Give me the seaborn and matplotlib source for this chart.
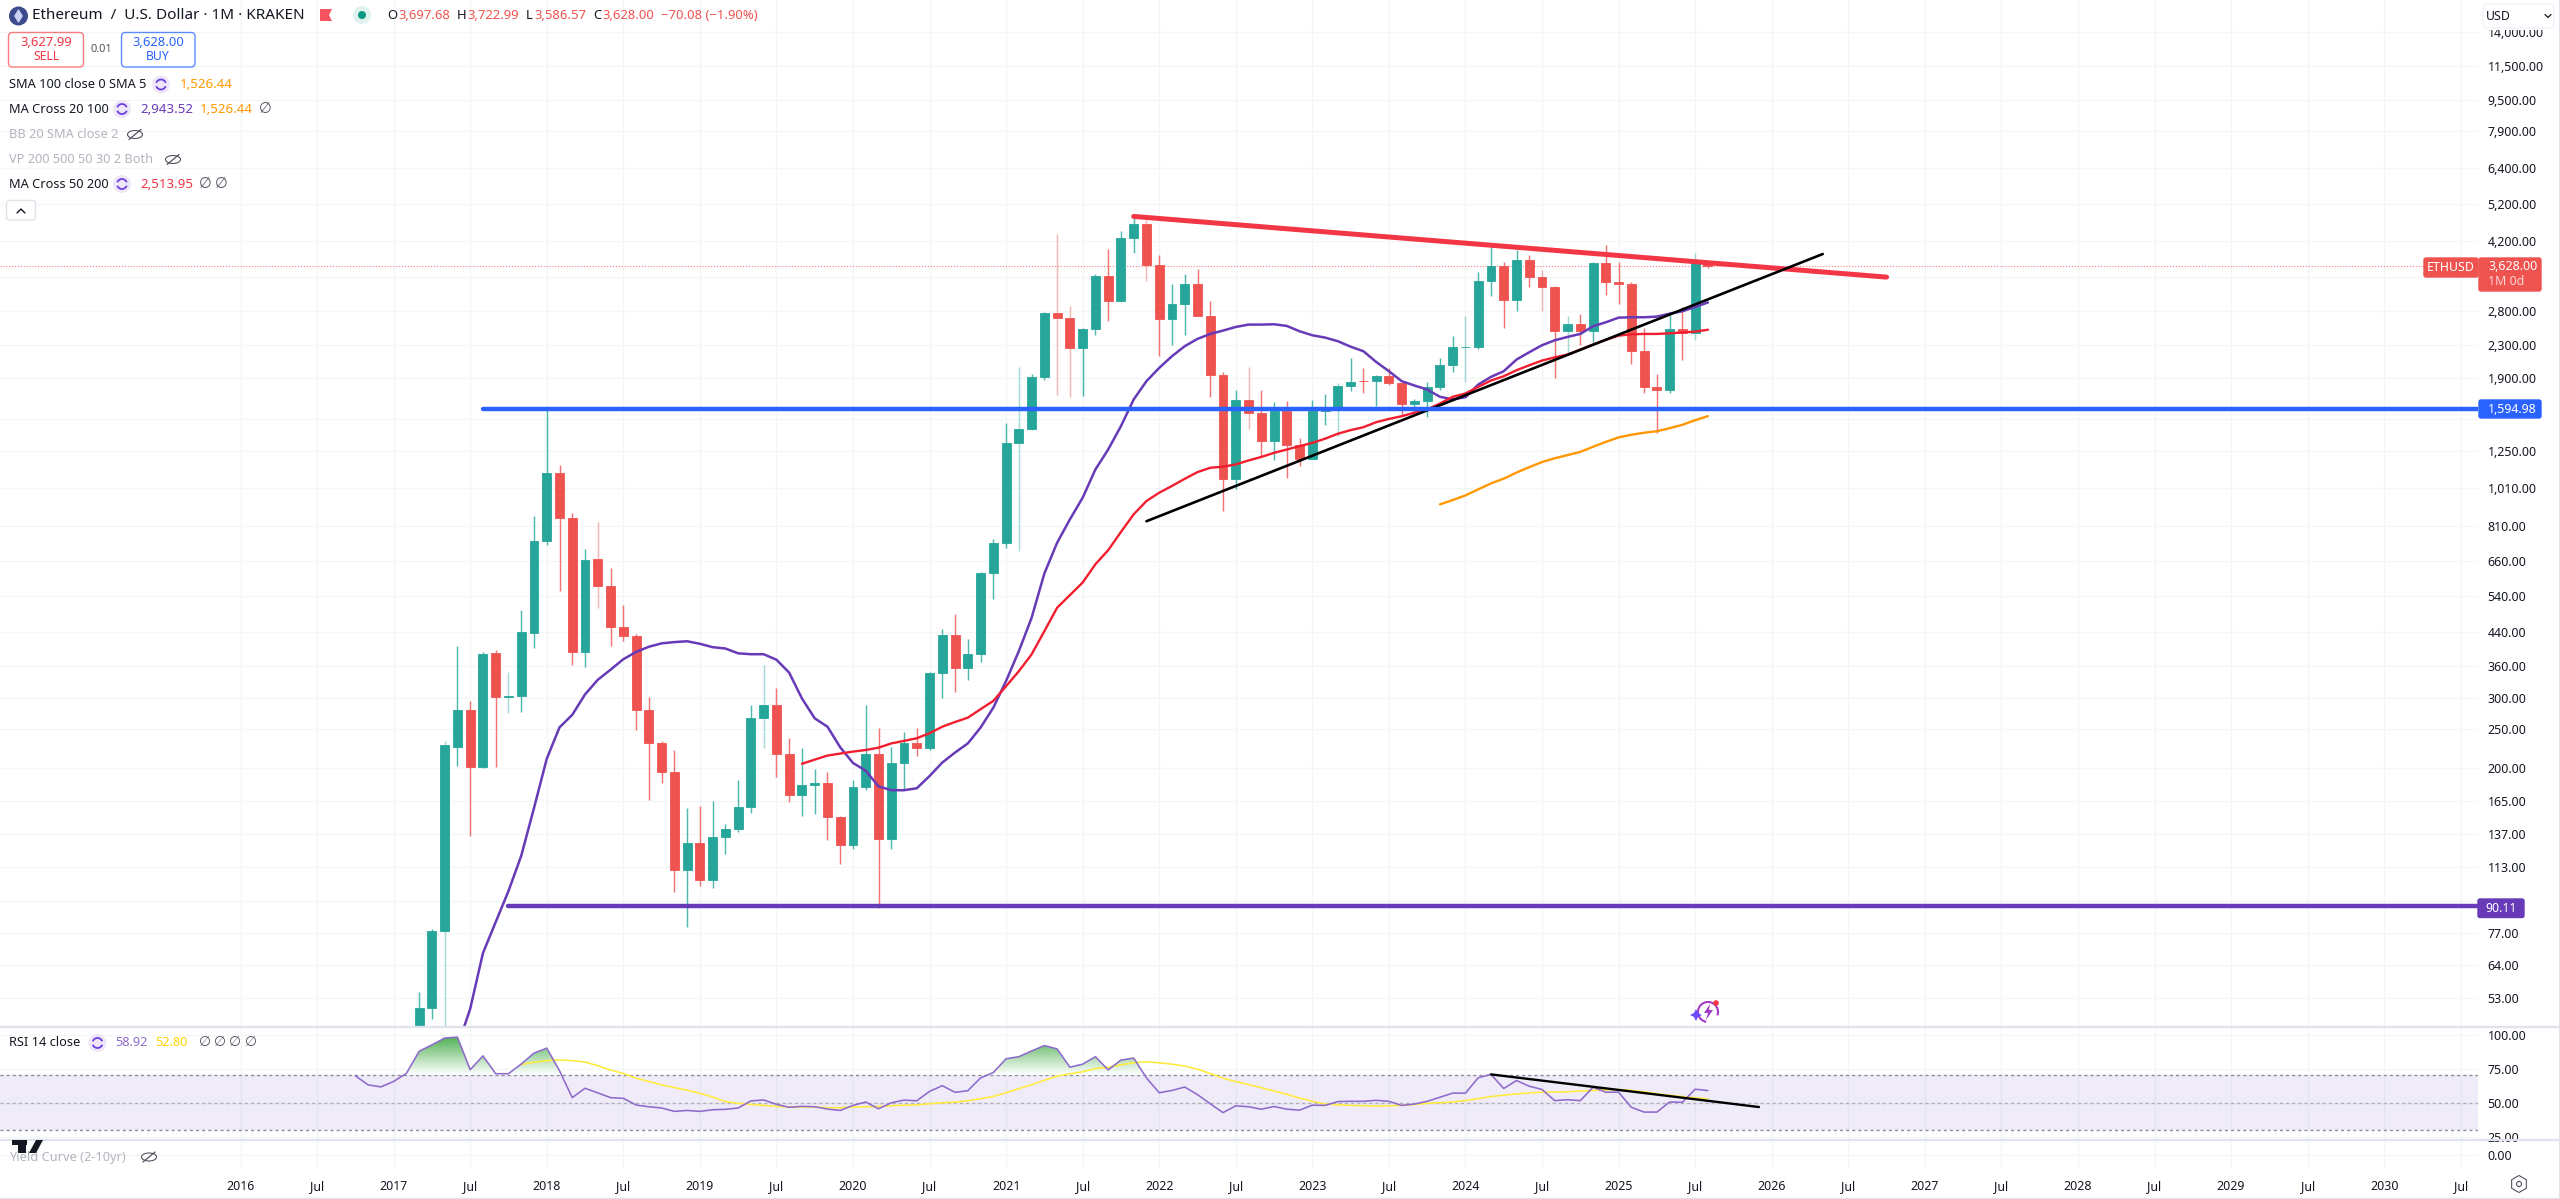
import numpy as np
import pandas as pd
import seaborn as sns
import matplotlib
matplotlib.use("Agg")
import matplotlib.pyplot as plt
from matplotlib.patches import Rectangle, FancyBboxPatch, Circle, Polygon, Ellipse, Arc, RegularPolygon

# ---------- data ----------
first_candle = "2017-03"
opens = [16,50,78,226,280,201,388,301,303,437,741,1100,846,390,668,574,451,430,280,231,196,111,130,105,134,140.5,
         160,267,288,217,171,181,183,151,128,179,217,132.5,206,231,225,346,432,357,386,616,735,1306,1419,1911,2770,
         2695,2267,2526,3425,2974,4278,4628,3654,2676,2918,3274,2717,1933,1063,1677,1553,1321,1568,1289,1189,1577,
         1605,1819,1870,1867,1930,1848,1639,1664,1808,2048,2272,2282,3325,3640,2992,3753,3408,3212,2497,2595,2497,
         3695,3319,3274,2220,1811,1780,2521,2469,3697.68]
highs = [55,79,234,404,294,392,395,348,498,860,1587,1149,873,710,826,635,514,433,301,234,222,159,161,165,145,187,
         288,362,318,238,224,199,195,152,187,288,252,226,246.5,252.6,348,446,488,421,622,752,1469,2029,1944,2790,4378,
         2879,2540,3475,4014,4439,4836,4727,3870,3274,3475,3577,2963,1965,1780,2025,1780,1658,1670,1345,1677,1739,
         1852,2133,2018,1935,2018,1860,1690,1862,2133,2431,2718,3505,4069,3725,3974,3876,3543,3243,2724,2760,3725,
         4108,3728,3319,2536,1952,2760,2867,3915,3722.99]
lows = [15,47,42,203,135,200,201,275,277,401,724,557,362,358,503,404,416,249,166,183,98,80,101,100,122,138,
        154,225,190,164,152,153,132,115,125.5,176,89.4,125,176,215,222,299,310.5,332,370,530,711,699,1412,1886,1726,
        1700,1713,2445,2650,2970,3915,3325,2158,2299,2439,2715,1700,881,1004,1419,1212,1184,1068,1144,1189,1452,
        1365,1760,1743,1617,1830,1541,1560,1520,1780,1975,1857,2250,3050,2536,2807,3224,2801,1907,2191,2308,2348,
        3078,2918,2068,1746,1387,1746,2108,2366,3586.57]
closes = [50,78,228,280,201,387,301,303,438,742,1100,846,390,666,574,451,429,280,231,196,111,130,105,134,140.5,160,
          267,288,217,171,181,183,151,128,179,217,132.5,206,231,224,346,432,357,386,616,733,1306,1419,1911,2771,2695,
          2267,2526,3422,2974,4278,4628,3654,2676,2918,3274,2717,1933,1063,1677,1553,1321,1568,1289,1189,1577,1605,
          1819,1860,1867,1930,1848,1639,1664,1808,2048,2272,2282,3325,3640,2992,3753,3408,3212,2497,2595,2497,3695,
          3319,3274,2220,1811,1780,2521,2469,3695,3628]
pale_wicks = ["2017-05","2017-10","2018-05","2019-06","2021-02","2021-05","2021-06","2021-12","2022-08","2023-03",
              "2024-01","2024-07","2024-09","2025-07"]

sma20_start = "2017-06"
sma20 = [40,49.8,68.7,82.2,98.3,120.5,158.7,211,253,272,306,333,353,375,391,403,411,414,416,410,402,399,388,386,386,
         374,347,299,266.6,254,225.5,206,197,180,176,176,178,191,206.5,218.8,230.6,252.7,283.6,330.8,393,476.6,615.5,
         735,841,953,1122,1259,1441,1681,1868,2017,2158,2286,2385,2454,2502,2555,2590,2590,2595,2570,2492,2435,2403,
         2353,2280,2221,2088,1979,1868,1822,1780,1707,1681,1703,1832,1915,1979,2116,2208,2299,2366,2412,2454,2565,
         2625,2696,2702,2702,2712,2759,2797,2867,2943.52]
sma50_start = "2019-09"
sma50 = [205,210,215,217.5,220,222,225,230.6,234,237.6,244.6,254,261,267.6,281,294.8,321,350,385.7,441,505,543,584,649,
         704,782,866,935,981,1020,1063,1105,1133,1140,1155,1182,1206,1235,1259,1284,1308,1340,1379,1408,1432,1474,1502,
         1526,1557,1587,1642,1707,1740,1808,1875,1922,1990,2048,2104,2144,2178,2242,2308,2371,2430,2449,2454,2454,
         2463,2475,2487,2513.95]
sma100_start = "2023-11"
sma100 = [917,940,966,1000,1035,1064,1102,1137,1171,1197,1219,1242,1279,1316,1350,1371,1387,1399,1424,1452,1491,1526.44]

rsi_start = "2016-10"
rsi = [69.8,63.1,61.6,65.6,71.5,87.8,92.5,97.5,98.2,74.2,84.4,71.3,71.3,78.4,86.4,90.1,73.5,53.7,60.6,57.2,53.7,53.2,
       48.3,47,46.1,43.6,44.3,43.6,44.8,45.1,46.1,51.3,52,48.8,46.6,47.3,47,45.3,44.3,48,50.5,45.5,49.9,51.9,51.4,58.3,
       62.5,57.6,58.8,68.2,72.2,82.3,83.8,88,92,89.5,76.1,78.3,83.8,74.1,81.3,82.8,68.2,57.3,59,61.5,55.9,49.2,42.7,
       47.7,47,45.2,47.2,45.2,44.5,48.2,48,50.8,51,51,51.7,51,48,49,51,54,57,57,68.3,70.8,60.4,66.3,62.1,59.7,51.5,
       52.2,51.5,61.4,57.7,57.7,46.6,43.1,43.1,50.5,50.3,59.9,58.92]
rsi_ma_start = "2017-11"
rsi_ma = [78,79.7,80.9,81.4,80.9,79.9,77.2,74,71.5,68,65.6,63.1,61.1,59.2,56.9,54.2,50.8,49.5,48.8,48,47.3,46.8,46.8,
          46.8,46.3,46.3,46.8,47,47.2,47.7,48.2,48.4,49.2,49.9,50.4,51.4,52.9,54.6,57.3,60.3,63.3,66.5,69.5,71.2,72.7,
          75.1,75.9,77.9,79.3,80.1,79.3,78.3,76.9,74.6,71.4,68,65.5,63.3,61,58.6,56.1,53.4,51,49,48.5,48,47.8,47.5,47.7,
          48,48.7,49.5,50,50.5,51.5,53,54.5,55.5,56.4,57.2,57.7,57.9,58,58.6,59,59.4,59.7,59,58,56.6,55.4,54.5,53.6,52.8]

price_ticks = [14000,11500,9500,7900,6400,5200,4200,3400,2800,2300,1900,1500,1250,1010,810,660,540,440,360,300,250,
               200,165,137,113,93,77,64,53]
hidden_price_ticks = [3400,1500,93]
rsi_ticks = [100,75,50,25]
years = list(range(2016, 2031))
resistance_line = (("2021-11", 4837), ("2026-10", 3407))
support_line = (("2021-12", 832), ("2026-05", 3893))
rsi_trend_line = (("2024-03", 70.8), ("2025-12", 46.8))
level_blue, level_blue_start = 1594.98, "2017-08"
level_purple, level_purple_start = 90.11, "2017-10"
last_price = 3628.00

GREEN, RED = "#26A69A", "#EF5350"
PURPLE, BLUE, TREND_RED, MA_RED, ORANGE = "#673AB7", "#2962FF", "#F23645", "#F01E2E", "#FF9800"
GRID, SEP, TEXT = "#F4F5F7", "#E0E3EB", "#131722"
FONT = ["Noto Sans", "DejaVu Sans"]

def mi(s):
    y, m = s.split("-")
    return (int(y) - 2016) * 12 + int(m) - 1

def series_frame(start, values):
    return pd.DataFrame({"month": mi(start) + np.arange(len(values)), "value": values})

# ---------- figure / panes (pixel layout of the 2560x1199 screenshot) ----------
sns.set_theme(style="white")
plt.rcParams["font.family"] = FONT
W, H = 2560, 1199
fig = plt.figure(figsize=(W / 100, H / 100), dpi=100, facecolor="white")

def pane(top, bottom, right=2478):
    return fig.add_axes([0, 1 - bottom / H, right / W, (bottom - top) / H])

main = pane(0, 1026)
rsi_ax = pane(1028, 1139)
yc = pane(1141, 1168)
xlim = ((0 - 240.5) / 12.76, (2478 - 240.5) / 12.76)
major_x = [(y - 2016) * 12 for y in years]
minor_x = [m + 6 for m in major_x]

for ax in (main, rsi_ax, yc):
    ax.set_xlim(*xlim)
    ax.set_facecolor("white")
    for s in ax.spines.values():
        s.set_visible(False)
    ax.set_axisbelow(True)
    for x in major_x + minor_x:
        ax.axvline(x, color=GRID, lw=1.0, zorder=0)
    ax.tick_params(axis="both", length=0)
    ax.yaxis.tick_right()

# ---------- main pane ----------
main.set_yscale("log")
main.set_ylim(45.1, 16880)
main.set_yticks(price_ticks)
main.minorticks_off()
main.set_yticklabels(["" if p in hidden_price_ticks else f"{p:,.2f}" for p in price_ticks],
                     fontsize=8.9, color=TEXT)
main.tick_params(axis="y", pad=7)
main.set_xticks([])
for p in price_ticks:
    main.axhline(p, color=GRID, lw=1.0, zorder=0)

candles = pd.DataFrame({"month": mi(first_candle) + np.arange(len(closes)),
                        "open": opens, "high": highs, "low": lows, "close": closes})
labels = pd.period_range(first_candle, periods=len(closes), freq="M").astype(str)
candles["pale"] = [s in pale_wicks for s in labels]
candles["color"] = np.where(candles.close >= candles.open, GREEN, RED)
main.vlines(candles.month, candles.low, candles.high, colors=candles.color,
            alpha=np.where(candles.pale, 0.42, 0.8), lw=1.05, zorder=2)
bottoms = candles[["open", "close"]].min(axis=1)
tops = candles[["open", "close"]].max(axis=1)
main.bar(candles.month, tops - bottoms, bottom=bottoms, width=0.70, color=candles.color,
         edgecolor=candles.color, linewidth=0.6, zorder=3)

main.axhline(last_price, color=RED, lw=0.8, ls=(0, (1, 1.6)), alpha=0.75, zorder=1)
for start, values, color, lw in ((sma20_start, sma20, PURPLE, 1.8), (sma50_start, sma50, MA_RED, 1.7),
                                 (sma100_start, sma100, ORANGE, 1.7)):
    sns.lineplot(data=series_frame(start, values), x="month", y="value", ax=main, color=color,
                 linewidth=lw, estimator=None, zorder=4)
main.set_xlabel(""); main.set_ylabel("")
main.set_xlim(*xlim)

for (a, b), color, lw in ((resistance_line, TREND_RED, 3.6), (support_line, "black", 1.9)):
    main.plot([mi(a[0]), mi(b[0])], [a[1], b[1]], color=color, lw=lw, solid_capstyle="round", zorder=5)
main.plot([mi(level_blue_start), xlim[1]], [level_blue] * 2, color=BLUE, lw=3.2,
          solid_capstyle="round", zorder=5)
main.plot([mi(level_purple_start), xlim[1]], [level_purple] * 2, color=PURPLE, lw=3.2,
          solid_capstyle="round", zorder=5)

# ---------- RSI pane ----------
rsi_ax.set_ylim(23.3, 104.9)
rsi_ax.set_yticks(rsi_ticks)
rsi_ax.set_yticklabels([f"{v:.2f}" for v in rsi_ticks], fontsize=8.9, color=TEXT)
rsi_ax.tick_params(axis="y", pad=7)
rsi_ax.set_xticks([])
for v in rsi_ticks:
    rsi_ax.axhline(v, color=GRID, lw=1.0, zorder=0)
rsi_ax.axhspan(30, 70, color="#7E57C2", alpha=0.115, lw=0, zorder=1)
for v, a in ((30, 0.85), (50, 0.5), (70, 0.85)):
    rsi_ax.axhline(v, color="#787B86", lw=1.0, ls=(0, (2.2, 2.2)), zorder=1.5, alpha=a)
rf = series_frame(rsi_start, rsi)
poly = rsi_ax.fill_between(rf.month, rf.value, 70, where=rf.value >= 70, interpolate=True, color="none", lw=0)
grad = np.linspace(0, 1, 128).reshape(-1, 1)
cmap = matplotlib.colors.LinearSegmentedColormap.from_list("g", ["#4CAF50", "#A8D8AA", "#FFFFFF"])
im = rsi_ax.imshow(grad, extent=(xlim[0], xlim[1], 70, 98.5), origin="upper", aspect="auto", cmap=cmap, zorder=1.8)
pth = poly.get_paths()
verts = [p for p in pth]
im.set_clip_path(matplotlib.path.Path.make_compound_path(*verts), transform=rsi_ax.transData)
rsi_ax.set_xlim(*xlim); rsi_ax.set_ylim(23.3, 104.9)
sns.lineplot(data=series_frame(rsi_ma_start, rsi_ma), x="month", y="value", ax=rsi_ax, color="#FFEB3B",
             linewidth=1.15, estimator=None, zorder=3)
sns.lineplot(data=rf, x="month", y="value", ax=rsi_ax, color="#8E6BCB", linewidth=1.15, estimator=None, zorder=4)
rsi_ax.plot([mi(rsi_trend_line[0][0]), mi(rsi_trend_line[1][0])], [rsi_trend_line[0][1], rsi_trend_line[1][1]],
            color="black", lw=1.7, zorder=5)
rsi_ax.set_xlabel(""); rsi_ax.set_ylabel("")

# ---------- yield pane and time axis ----------
yc.set_ylim(-1, 1)
yc.set_yticks([0]); yc.set_yticklabels(["0.00"], fontsize=8.9, color=TEXT)
yc.tick_params(axis="y", pad=7)
yc.axhline(0, color=GRID, lw=1.0, zorder=0)
xt = sorted(major_x + minor_x)
yc.set_xticks(xt)
yc.set_xticklabels([str(2016 + m // 12) if m % 12 == 0 else "Jul" for m in xt], fontsize=8.9, color=TEXT)
yc.tick_params(axis="x", pad=9)
for lab, m in zip(yc.get_xticklabels(), xt):
    lab.set_fontweight("bold" if m % 12 == 0 else "normal")

# ---------- chrome drawn in screen pixels ----------
ov = fig.add_axes([0, 0, 1, 1], facecolor="none", zorder=10)
ov.set_xlim(0, W); ov.set_ylim(H, 0); ov.axis("off")

def txt(x, y, s, color=TEXT, size=9.4, ha="left", weight="normal", **kw):
    return ov.text(x, y, s, color=color, fontsize=size, ha=ha, va="center", fontweight=weight, **kw)

def box(x0, y0, x1, y1, fc, ec=None, r=2, lw=1.0, z=2):
    ov.add_patch(FancyBboxPatch((x0, y0), x1 - x0, y1 - y0, boxstyle=f"round,pad=0,rounding_size={r}",
                                fc=fc, ec=ec or fc, lw=lw, zorder=z))

def sync_icon(x, y):
    ov.add_patch(Circle((x, y), 9, fc="#EDE7F9", ec="none", zorder=2))
    ov.add_patch(Arc((x, y), 10, 10, theta1=200, theta2=340, color="#6D3FE0", lw=1.3, zorder=3))
    ov.add_patch(Arc((x, y), 10, 10, theta1=20, theta2=160, color="#6D3FE0", lw=1.3, zorder=3))

def eye_off(x, y):
    ov.add_patch(Ellipse((x, y), 15, 8, fc="white", ec="#50535E", lw=0.8, zorder=3))
    ov.plot([x - 6, x + 6], [y + 5, y - 5], color="#50535E", lw=0.9, zorder=4)

# header
ov.add_patch(Circle((18.5, 16), 9.5, fc="#3C4A8C", ec="none"))
ov.add_patch(Polygon([(18.5, 9), (23, 16), (18.5, 23), (14, 16)], fc="#C9D2F0", ec="none", zorder=3))
txt(32, 15.5, "Ethereum  /  U.S. Dollar · 1M · KRAKEN", size=11)
ov.add_patch(Polygon([(320, 9), (332, 9), (329, 15), (332, 21), (320, 21)], fc="#F7525F", ec="none"))
ov.add_patch(Circle((362, 15), 9, fc="#DFF3EE", ec="none"))
ov.add_patch(Circle((362, 15), 4, fc="#089981", ec="none", zorder=3))
for x, s, c in ((387, "O", TEXT), (398, "3,697.68", RED), (457, "H", TEXT), (467, "3,722.99", RED),
                (526, "L", TEXT), (534, "3,586.57", RED), (593, "C", TEXT), (602, "3,628.00", RED),
                (661, "−70.08 (−1.90%)", RED)):
    txt(x, 15.5, s, color=c, size=9.4)
box(8.5, 32.5, 83.5, 67, "white", "#F77C80", r=4)
box(121.5, 32.5, 195, 67, "white", "#5B8BFF", r=4)
txt(46, 42, "3,627.99", color="#F23645", size=9.4, ha="center")
txt(46, 56.5, "SELL", color="#F23645", size=8.8, ha="center")
txt(101.5, 49, "0.01", color="#50535E", size=8.0, ha="center")
txt(158, 42, "3,628.00", color=BLUE, size=9.4, ha="center")
txt(158, 56.5, "BUY", color=BLUE, size=8.8, ha="center")
# legend
txt(9, 84.5, "SMA 100 close 0 SMA 5", size=9.2)
sync_icon(161, 84.5)
txt(180, 84.5, "1,526.44", color=ORANGE, size=9.6)
txt(9, 109.5, "MA Cross 20 100", size=9.2)
sync_icon(122, 109)
txt(140, 109.5, "2,943.52", color=PURPLE, size=9.6)
txt(200, 109.5, "1,526.44", color=ORANGE, size=9.6)
txt(259, 109.5, "∅", color="#50535E", size=10.5)
txt(9, 134.5, "BB 20 SMA close 2", color="#B2B5BE", size=9.2)
eye_off(135, 134.5)
txt(9, 159.5, "VP 200 500 50 30 2 Both", color="#B2B5BE", size=9.2)
eye_off(173, 159.5)
txt(9, 184.5, "MA Cross 50 200", size=9.2)
sync_icon(122, 184)
txt(140, 184.5, "2,513.95", color="#F23645", size=9.6)
txt(199, 184.5, "∅", color="#50535E", size=10.5)
txt(215, 184.5, "∅", color="#50535E", size=10.5)
box(6.5, 200.5, 35.5, 220, "white", SEP, r=3)
ov.plot([17, 21, 25], [213, 209, 213], color=TEXT, lw=1.0)
# USD button hides the top tick label
ov.add_patch(Rectangle((2479, 0), 81, 30, fc="white", ec="none", zorder=2))
box(2483, 4, 2554, 28, "white", "#F0F3FA", r=4, z=3)
txt(2486, 16, "USD", size=8.9, zorder=4)
ov.plot([2545, 2548, 2551], [14.5, 17.5, 14.5], color=TEXT, lw=0.9, zorder=4)
# price tags
box(2424, 258, 2478, 277, RED)
txt(2451, 267.5, "ETHUSD", color="white", size=8.9, ha="center", zorder=4)
box(2479, 258, 2541, 291, RED)
txt(2488, 266.5, "3,628.00", color="white", size=8.9, zorder=4)
txt(2488, 281.5, "1M 0d", color="#FBD5D4", size=8.9, zorder=4)
box(2479, 400, 2541, 418, BLUE)
txt(2488, 409.5, "1,594.98", color="white", size=8.9, zorder=4)
box(2478, 899, 2524, 917.5, PURPLE)
txt(2501, 908, "90.11", color="white", size=8.9, ha="center", zorder=4)
# pane separators and outer frame
for y in (1027, 1140):
    ov.plot([0, 2560], [y, y], color=SEP, lw=1.6, zorder=1)
ov.plot([0, 2560], [1197.5, 1197.5], color=SEP, lw=1.0)
ov.plot([2558.5, 2558.5], [0, 1197], color=SEP, lw=0.8)
# RSI / yield captions
txt(9, 1043, "RSI 14 close", size=9.2)
sync_icon(97.5, 1043)
txt(115, 1043, "58.92", color="#8E6BCB", size=9.2)
txt(155, 1043, "52.80", color="#FFD600", size=9.2)
for x in (199, 214, 229, 245):
    txt(x, 1043, "∅", color="#50535E", size=10)
txt(9, 1157, "Yield Curve (2-10yr)", color="#B2B5BE", size=9.2)
eye_off(149, 1157)
# TradingView mark
ov.add_patch(Rectangle((12, 1140), 15, 5, fc=TEXT, ec="none", zorder=3))
ov.add_patch(Rectangle((18, 1140), 8, 13, fc=TEXT, ec="none", zorder=3))
ov.add_patch(Polygon([(36, 1140), (43, 1140), (36, 1153), (29, 1153)], fc=TEXT, ec="none", zorder=3))
# settings hexagon
ov.add_patch(RegularPolygon((2519, 1184), 6, radius=8.5, fc="white", ec="#50535E", lw=0.8))
ov.add_patch(Circle((2519, 1184), 2.5, fc="white", ec="#50535E", lw=0.8, zorder=3))
# flash icon
ov.add_patch(Arc((1708, 1012), 20, 20, theta1=100, theta2=20, color="#A23BC4", lw=1.5))
ov.add_patch(Polygon([(1710, 1004), (1704, 1013), (1708, 1013), (1706, 1020), (1713, 1010), (1709, 1010)],
                     fc="#A23BC4", ec="none"))
ov.add_patch(Circle((1716, 1003), 2.8, fc="#F23645", ec="none", zorder=3))
ov.add_patch(Polygon([(1696, 1009), (1698, 1013), (1702, 1015), (1698, 1017), (1696, 1021), (1694, 1017),
                      (1690, 1015), (1694, 1013)], fc="#6A4BFF", ec="none", zorder=3))

fig.savefig("out.png", dpi=100, facecolor="white")
